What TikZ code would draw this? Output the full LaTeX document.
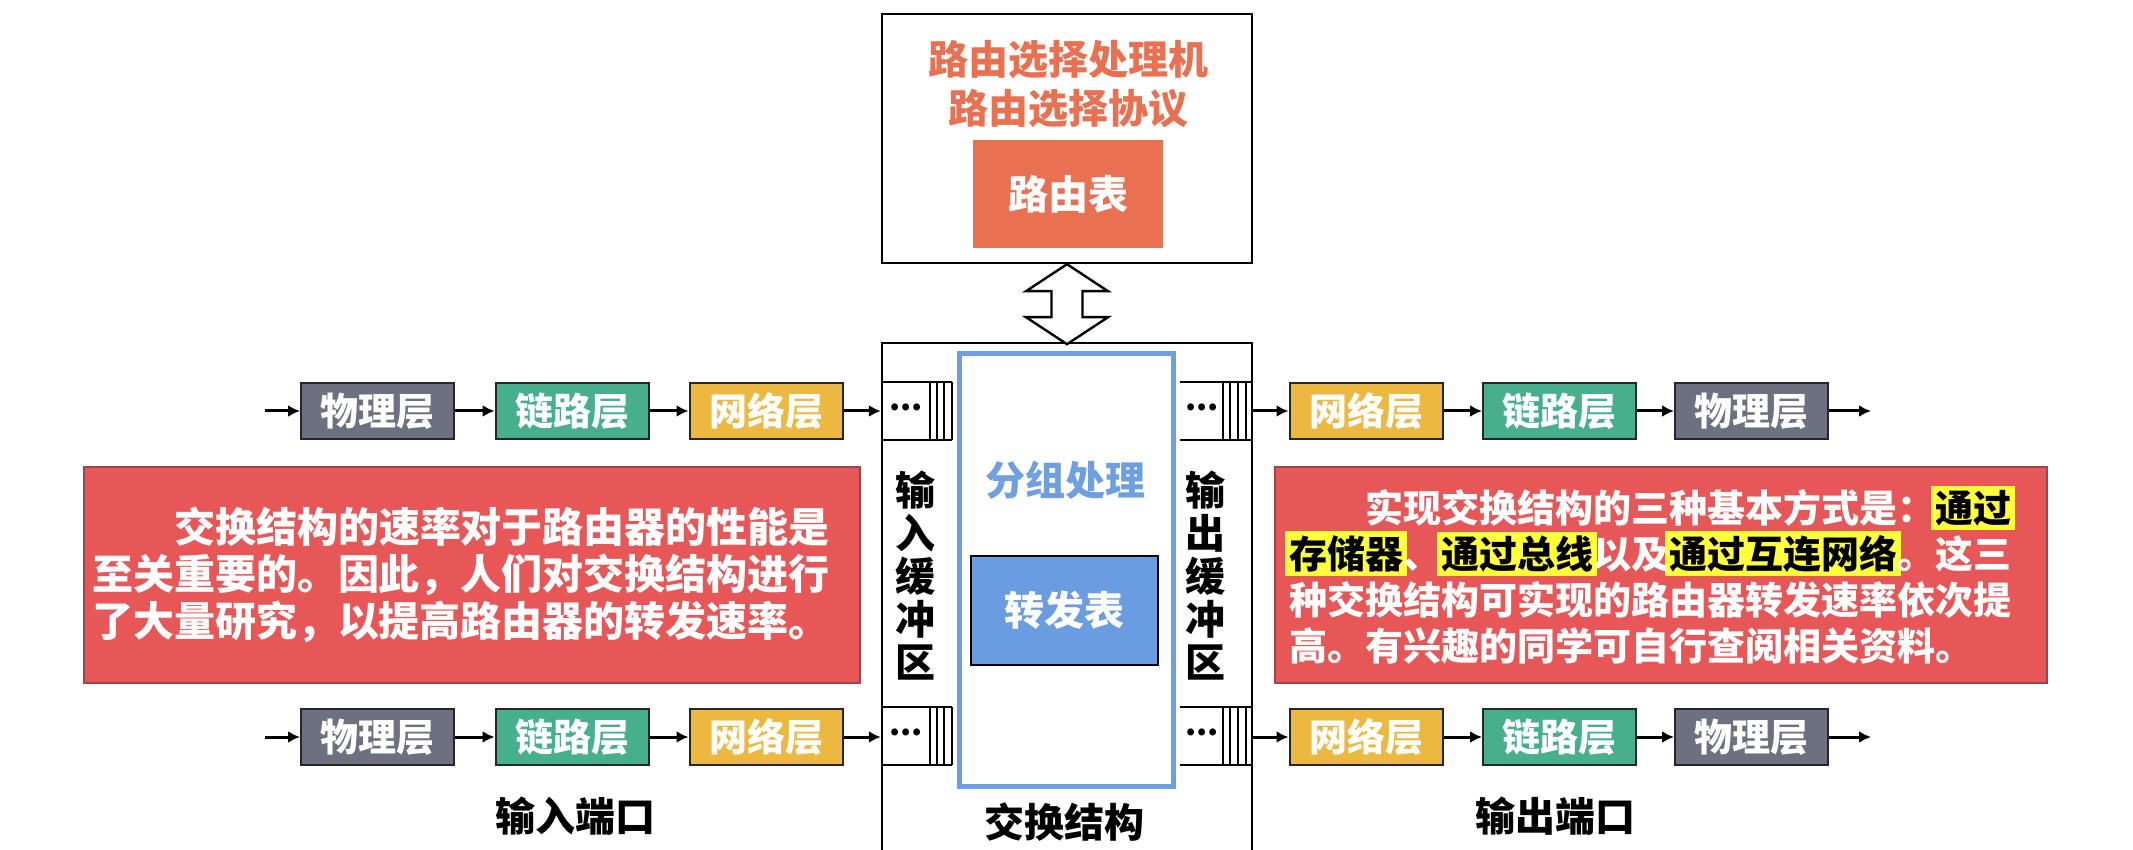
\documentclass[tikz,border=0pt]{standalone}
\usepackage{fontspec}
\setmainfont{Noto Sans CJK SC}
\usetikzlibrary{arrows.meta,calc}
\definecolor{physc}{HTML}{6C7080}
\definecolor{linkc}{HTML}{46B08C}
\definecolor{netc}{HTML}{ECB840}
\definecolor{routec}{HTML}{E97050}
\definecolor{bluec}{HTML}{6EA0E1}
\definecolor{fwdc}{HTML}{6A9CE2}
\definecolor{redc}{HTML}{E85757}
\definecolor{redborder}{HTML}{A04545}
\definecolor{hly}{HTML}{FFFF3C}
\newcommand\hlt[1]{\begingroup\setlength{\fboxsep}{2pt}\hspace*{-2pt}\colorbox{hly}{\textcolor{black}{#1}}\hspace*{-2pt}\endgroup}
\begin{document}
\begin{tikzpicture}[x=0.5pt,y=-0.5pt,
  lyr/.style={draw=black!85, line width=1pt, minimum width=76.5pt, minimum height=28pt, inner sep=0pt, text=white, font=\fontsize{19}{19}\selectfont\bfseries},
  physbox/.style={lyr, fill=physc},
  linkbox/.style={lyr, fill=linkc},
  netbox/.style={lyr, fill=netc},
  flowarrow/.style={line width=1.5pt, -{Latex[length=6pt,width=6pt]}},
  bufline/.style={line width=0.8pt},
  dotsn/.style={inner sep=0pt, font=\fontsize{16}{16}\selectfont\bfseries},
  bigtxt/.style={font=\fontsize{20}{20}\selectfont\bfseries},
  notebox/.style={draw=redborder, line width=0.8pt, fill=redc, text=white, align=left, minimum height=108pt, inner ysep=0pt},
  frame/.style={draw=black, line width=1.2pt}
]
\clip (0,0) rectangle (2133,850);
\fill[white] (0,0) rectangle (2133,850);

% routing processor box
\node[frame, minimum width=185pt, minimum height=124.5pt, inner sep=0pt] (rp) at (1067,138.5) {};
\node[bigtxt, text=routec] (rpt1) at (1068,60) {路由选择处理机};
\node[bigtxt, text=routec] (rpt2) at (1068,109) {路由选择协议};
\node[bigtxt, fill=routec, text=white, minimum width=95pt, minimum height=54pt, inner sep=0pt] (rt) at (1068,194) {路由表};

% switching fabric box
\node[frame, minimum width=185pt, minimum height=268.5pt, inner sep=0pt] (sw) at (1067,611.5) {};
\node[draw=bluec, line width=2.5pt, minimum width=107pt, minimum height=216pt, inner sep=0pt] (bb) at (1066,570) {};
\node[bigtxt, text=bluec] (pkt) at (1065,480) {分组处理};
\node[bigtxt, fill=fwdc, draw=black, line width=1.2pt, text=white, minimum width=93.5pt, minimum height=54.5pt, inner sep=0pt] (fw) at (1064.5,610.5) {转发表};
\node[bigtxt] (swl) at (1064,822) {交换结构};

% double arrow
\draw[line width=1.2pt, fill=white, line join=miter] (rp.south) -- ++(41,27) -- ++(-25.5,0) -- ++(0,26) -- ++(25.5,0) -- ++(-41,27) -- ++(-41,-27) -- ++(25.5,0) -- ++(0,-26) -- ++(-25.5,0) -- cycle;

% buffers
\foreach \yy/\nm in {411/1,736/2}{
  \coordinate (ib\nm) at (882,\yy);
  \draw[bufline] ($(ib\nm)+(0,-29)$) -- ++(70,0) ($(ib\nm)+(0,29)$) -- ++(70,0);
  \foreach \dx in {48,55,62,70} \draw[bufline] ($(ib\nm)+(\dx,-29)$) -- ++(0,58);
  \node[dotsn] (ibd\nm) at ($(ib\nm)+(24,0)$) {\raisebox{4pt}{...}};
  \coordinate (ob\nm) at (1252,\yy);
  \draw[bufline] ($(ob\nm)+(0,-29)$) -- ++(-72,0) ($(ob\nm)+(0,29)$) -- ++(-72,0);
  \foreach \dx in {-29,-22,-14,-6} \draw[bufline] ($(ob\nm)+(\dx,-29)$) -- ++(0,58);
  \node[dotsn] (obd\nm) at ($(ob\nm)+(-50,0)$) {\raisebox{4pt}{...}};
}
\node[align=center, font=\fontsize{20}{21.5}\selectfont\bfseries] (ibl) at (915,576) {输\\入\\缓\\冲\\区};
\node[align=center, font=\fontsize{20}{21.5}\selectfont\bfseries] (obl) at (1205,576) {输\\出\\缓\\冲\\区};

% layer boxes
\foreach \yy/\nm in {411/1,737/2}{
  \node[physbox] (pL\nm) at (377.5,\yy) {物理层};
  \node[linkbox] (lL\nm) at (572,\yy) {链路层};
  \node[netbox] (nL\nm) at (766,\yy) {网络层};
  \node[netbox] (nR\nm) at (1366,\yy) {网络层};
  \node[linkbox] (lR\nm) at (1559.5,\yy) {链路层};
  \node[physbox] (pR\nm) at (1751.5,\yy) {物理层};
  \coordinate (inS\nm) at (265,\yy);
  \coordinate (outE\nm) at (1871,\yy);
  \draw[flowarrow] (inS\nm) -- (pL\nm);
  \draw[flowarrow] (pL\nm) -- (lL\nm);
  \draw[flowarrow] (lL\nm) -- (nL\nm);
  \draw[flowarrow] (nL\nm) -- (nL\nm -| sw.west);
  \draw[flowarrow] (nR\nm -| sw.east) -- (nR\nm);
  \draw[flowarrow] (nR\nm) -- (lR\nm);
  \draw[flowarrow] (lR\nm) -- (pR\nm);
  \draw[flowarrow] (pR\nm) -- (outE\nm);
}

% port labels
\node[bigtxt] (inport) at (575,816) {输入端口};
\node[bigtxt] (outport) at (1555,816) {输出端口};

% note boxes
\node[notebox, inner xsep=4pt, text width=380pt, font=\fontsize{20.5}{23.5}\selectfont\bfseries] (noteL) at (472,575) {\hspace*{2em}交换结构的速率对于路由器的性能是\\至关重要的。因此，人们对交换结构进行\\了大量研究，以提高路由器的转发速率。};
\node[notebox, inner xsep=7pt, text width=372pt, font=\fontsize{19}{23}\selectfont\bfseries] (noteR) at (1661,575) {\hspace*{2em}实现交换结构的三种基本方式是：\hlt{通过}\\\hlt{存储器}、\hlt{通过总线}以及\hlt{通过互连网络}。这三\\种交换结构可实现的路由器转发速率依次提\\高。有兴趣的同学可自行查阅相关资料。};
\end{tikzpicture}
\end{document}
